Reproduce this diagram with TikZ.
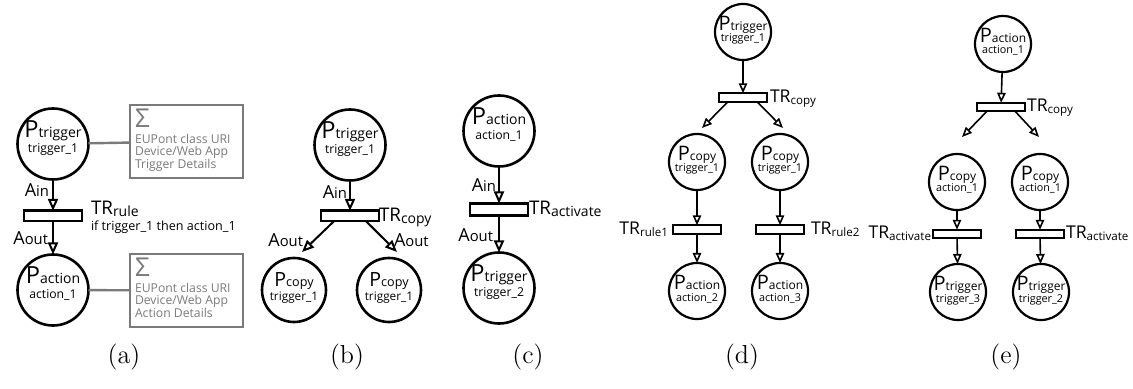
\documentclass[tikz,border=0pt]{standalone}
\usepackage{fontspec}
\setsansfont{Open Sans}
\usetikzlibrary{arrows.meta}
\definecolor{boxgray}{HTML}{7A7A7A}

% labels with a smaller trailing index
\newcommand\Alab[1]{{\fontsize{9}{9}\selectfont A\fontsize{7.4}{8}\selectfont #1}}
\newcommand\TRlab[1]{{\fontsize{9.4}{9}\selectfont TR\raisebox{-1pt}{\fontsize{7}{7}\selectfont #1}}}
\newcommand\TRsm[1]{{\fontsize{8.8}{9}\selectfont TR\raisebox{-1pt}{\fontsize{5.8}{7}\selectfont #1}}}

% large place (panels a-c)
\newcommand\placeA[4]{%
  \node[place, minimum size=35.5pt] (#1) at (#2) {};
  \node[txt, anchor=base] (#1-h) at ([yshift=3pt]#1.center)
    {\fontsize{11.8}{12}\selectfont P\fontsize{7}{7}\selectfont #3};
  \node[txt, anchor=base] (#1-l) at ([yshift=-4.5pt]#1.center)
    {\fontsize{6.1}{7}\selectfont #4};
}
% medium place (copies in panel b)
\newcommand\placeB[4]{%
  \node[place, minimum size=32pt] (#1) at (#2) {};
  \node[txt, anchor=base] (#1-h) at ([yshift=2pt]#1.center)
    {\fontsize{9.8}{10}\selectfont P\fontsize{6.3}{7}\selectfont #3};
  \node[txt, anchor=base] (#1-l) at ([yshift=-5pt]#1.center)
    {\fontsize{5.9}{7}\selectfont #4};
}
% small place (panels d-e)
\newcommand\placeC[4]{%
  \node[place, line width=1.1pt, minimum size=28pt] (#1) at (#2) {};
  \node[txt, anchor=base] (#1-h) at ([yshift=0.5pt]#1.center)
    {\fontsize{10}{10}\selectfont P\fontsize{6}{7}\selectfont #3};
  \node[txt, anchor=base] (#1-l) at ([yshift=-5pt]#1.center)
    {\fontsize{5.4}{6}\selectfont #4};
}
% information box with sigma and three lines
\newcommand\infobox[6]{%
  \node[ibox] (#1) at (#2,#3) {};
  \node[itxt, anchor=base west] (#1-s) at (135,#3-13.5) {\fontsize{13}{13}\selectfont Σ};
  \node[itxt, anchor=base west] (#1-a) at (135,#3+2) {#4};
  \node[itxt, anchor=base west] (#1-b) at (135,#3+14.5) {#5};
  \node[itxt, anchor=base west] (#1-c) at (135,#3+27) {#6};
}

\begin{document}
\begin{tikzpicture}[x=0.5pt,y=-0.5pt,
  every node/.style={inner sep=0pt, outer sep=0pt},
  txt/.style={font=\sffamily},
  place/.style={circle, draw, line width=1.3pt},
  trans/.style={draw, line width=1.3pt, minimum width=29pt, minimum height=5.2pt},
  strans/.style={draw, line width=1.1pt, minimum width=24pt, minimum height=4.2pt},
  arr/.style={-{Triangle[open,length=6pt,width=5pt]}, line width=1pt},
  sarr/.style={-{Triangle[open,length=5pt,width=4.2pt]}, line width=0.8pt},
  ibox/.style={draw=boxgray, line width=1.2pt, minimum width=56.3pt, minimum height=36.3pt},
  itxt/.style={font=\sffamily\fontsize{6.1}{6.2}\selectfont, text=boxgray},
  captxt/.style={font=\fontsize{13}{13}\selectfont}]
\useasboundingbox (0,0) rectangle (1133,389);

% ---------- (a) ----------
\placeA{pa1}{53,144}{trigger}{trigger\_1}
\node[trans] (ta) at (53,216) {};
\placeA{pa2}{53,290}{action}{action\_1}
\draw[arr] (pa1) -- (ta);
\draw[arr] (ta) -- (pa2);
\node[txt, anchor=base east] (la1) at (49,197) {\Alab{in}};
\node[txt, anchor=base east] (la2) at (48,245) {\Alab{out}};
\node[txt, anchor=base west] (lta) at (91,215) {\TRlab{rule}};
\node[txt, anchor=base west] (lra) at (91,231) {\fontsize{6.3}{7}\selectfont if trigger\_1 then action\_1};
\infobox{ba1}{186.5}{141.5}{EUPont class URI}{Device/Web App}{Trigger Details}
\infobox{ba2}{186.5}{290.5}{EUPont class URI}{Device/Web App}{Action Details}
\draw[boxgray, line width=1.2pt] (pa1) -- (ba1);
\draw[boxgray, line width=1.2pt] (pa2) -- (ba2);

% ---------- (b) ----------
\placeA{pb1}{350,145}{trigger}{trigger\_1}
\node[trans] (tb) at (350,216) {};
\placeB{pb2}{294,290}{copy}{trigger\_1}
\placeB{pb3}{389,290}{copy}{trigger\_1}
\coordinate (eb2) at (302,252);
\coordinate (eb3) at (397,252);
\draw[arr] (pb1) -- (tb);
\draw[arr] ([xshift=-8pt]tb.south) -- (eb2);
\draw[arr] ([xshift=8pt]tb.south) -- (eb3);
\node[txt, anchor=base east] (lb1) at (347,199) {\Alab{in}};
\node[txt, anchor=base east] (lb2) at (303,247) {\Alab{out}};
\node[txt, anchor=base west] (lb3) at (394,247) {\Alab{out}};
\node[txt, anchor=base west] (ltb) at (379,222) {\TRlab{copy}};

% ---------- (c) ----------
\placeA{pc1}{499,131}{action}{action\_1}
\node[trans, minimum height=6pt] (tc) at (499,209.5) {};
\placeA{pc2}{499,288}{trigger}{trigger\_2}
\draw[arr] (pc1) -- (tc);
\draw[arr] (tc) -- (pc2);
\node[txt, anchor=base east] (lc1) at (496,192) {\Alab{in}};
\node[txt, anchor=base east] (lc2) at (493,242) {\Alab{out}};
\node[txt, anchor=base west] (ltc) at (529,215) {\TRlab{activate}};

% ---------- (d) ----------
\placeC{pd1}{743,32}{trigger}{trigger\_1}
\node[strans] (td) at (743,97.5) {};
\placeC{pd2}{697,162}{copy}{trigger\_1}
\placeC{pd3}{780,162}{copy}{trigger\_1}
\node[strans] (td2) at (697,229.5) {};
\node[strans] (td3) at (780,229.5) {};
\placeC{pd4}{697,291}{action}{action\_2}
\placeC{pd5}{780,291}{action}{action\_3}
\coordinate (ed2) at (702,128);
\coordinate (ed3) at (783,128);
\draw[sarr] (pd1) -- (td);
\draw[sarr] ([xshift=-7.5pt]td.south) -- (ed2);
\draw[sarr] ([xshift=7pt]td.south) -- (ed3);
\draw[sarr] (pd2) -- (td2);
\draw[sarr] (td2) -- (pd4);
\draw[sarr] (pd3) -- (td3);
\draw[sarr] (td3) -- (pd5);
\node[txt, anchor=base west] (ltd) at (770,103) {\TRsm{copy}};
\node[txt, anchor=base east] (ltd2) at (668,235) {\TRsm{rule1}};
\node[txt, anchor=base west] (ltd3) at (811,235) {\TRsm{rule2}};

% ---------- (e) ----------
\placeC{pe1}{1003,44}{action}{action\_1}
\node[strans] (te) at (1001,107) {};
\placeC{pe2}{957,182}{copy}{action\_1}
\placeC{pe3}{1040,182}{copy}{action\_1}
\node[strans] (te2) at (957,234) {};
\node[strans] (te3) at (1040,234) {};
\placeC{pe4}{958,292}{trigger}{trigger\_3}
\placeC{pe5}{1041,292}{trigger}{trigger\_2}
\coordinate (ee2) at (962,137);
\coordinate (ee3) at (1039,137);
\draw[sarr] (pe1) -- (te);
\draw[sarr] ([xshift=-7pt]te.south) -- (ee2);
\draw[sarr] ([xshift=7pt]te.south) -- (ee3);
\draw[sarr] (pe2) -- (te2);
\draw[sarr] (te2) -- (pe4);
\draw[sarr] (pe3) -- (te3);
\draw[sarr] (te3) -- (pe5);
\node[txt, anchor=base west] (lte) at (1027,112) {\TRsm{copy}};
\node[txt, anchor=base east] (lte2) at (931,239) {\TRsm{activate}};
\node[txt, anchor=base west] (lte3) at (1066,239) {\TRsm{activate}};

% ---------- captions ----------
\node[captxt] (ca) at (124,357) {(a)};
\node[captxt] (cb) at (347,357) {(b)};
\node[captxt] (cc) at (528,357) {(c)};
\node[captxt] (cd) at (742,357) {(d)};
\node[captxt] (ce) at (1006,357) {(e)};
\end{tikzpicture}
\end{document}
